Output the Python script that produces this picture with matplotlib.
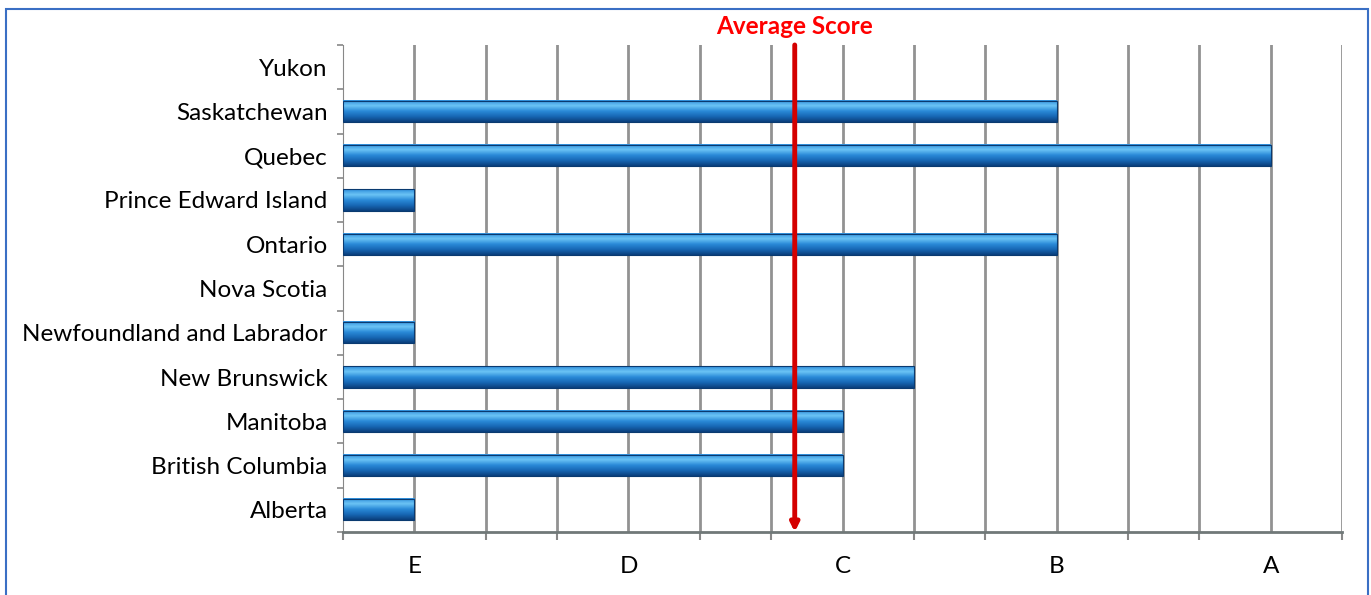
import numpy as np
import matplotlib.pyplot as plt
from matplotlib.patches import Rectangle
from matplotlib.colors import LinearSegmentedColormap

provinces = ['Alberta', 'British Columbia', 'Manitoba', 'New Brunswick',
             'Newfoundland and Labrador', 'Nova Scotia', 'Ontario',
             'Prince Edward Island', 'Quebec', 'Saskatchewan', 'Yukon']
scores = [1, 7, 7, 8, 1, 0, 10, 1, 13, 10, 0]
grade_pos = [1, 4, 7, 10, 13]
grade_labels = ['E', 'D', 'C', 'B', 'A']
avg_score = 6.33

plt.rcParams['font.family'] = ['Lato', 'DejaVu Sans']

fig = plt.figure(figsize=(13.71, 5.95), dpi=100)
ax = fig.add_axes([0.2502, 0.1059, 0.7287, 0.8185])

# blue frame around the whole chart
fig.patches.append(Rectangle((0.0045, -0.01), 0.9935, 0.995, transform=fig.transFigure,
                             fill=False, edgecolor='#3a6fc4', linewidth=1.5))

# vertical grid
for gx in range(1, 15):
    ax.axvline(gx, color='#929292', linewidth=2, zorder=1)

# bars with a cylinder-like gradient
cmap = LinearSegmentedColormap.from_list('cyl', ['#0b3f7c', '#1767b4', '#2a8ad8', '#6cc4f5', '#2f8fdc'])
grad = np.linspace(0, 1, 64).reshape(-1, 1)
h = 0.48
for i, v in enumerate(scores):
    if v <= 0:
        continue
    ax.imshow(grad, cmap=cmap, aspect='auto', origin='lower',
              extent=(0, v, i - h / 2, i + h / 2), zorder=3, interpolation='bilinear')
    ax.add_patch(Rectangle((0, i - h / 2), v, h, fill=False, edgecolor='#0a3a70',
                           linewidth=0.8, zorder=4))
ax.set_xlim(0, 14)
ax.set_ylim(-0.5, len(provinces) - 0.5)

# average score line
ax.annotate('', xy=(avg_score, -0.5), xytext=(avg_score, len(provinces) - 0.5),
            arrowprops=dict(arrowstyle='-|>', color='#d40000', lw=3.5, mutation_scale=12,
                            shrinkA=0, shrinkB=0), zorder=5)
ax.text(avg_score, len(provinces) - 0.5 + 0.16, 'Average Score', color='#ff0000',
        fontsize=17.5, fontweight='bold', ha='center', va='bottom')

ax.set_yticks(range(len(provinces)))
ax.set_yticklabels(provinces, fontsize=17.5)
ax.set_yticks(np.arange(-0.5, len(provinces), 1), minor=True)
ax.tick_params(axis='y', which='major', length=0, pad=11)
ax.tick_params(axis='y', which='minor', length=4, color='#888888', width=1.2)

ax.set_xticks(grade_pos)
ax.set_xticklabels(grade_labels, fontsize=17.5)
ax.set_xticks(range(0, 15), minor=True)
ax.tick_params(axis='x', which='major', length=0, pad=17)
ax.tick_params(axis='x', which='minor', length=6, color='#888888', width=1.5)

for s in ['top', 'right']:
    ax.spines[s].set_visible(False)
ax.spines['left'].set_color('#888888')
ax.spines['bottom'].set_color('#707878')
ax.spines['bottom'].set_linewidth(2)

fig.savefig('out.png', dpi=100)
